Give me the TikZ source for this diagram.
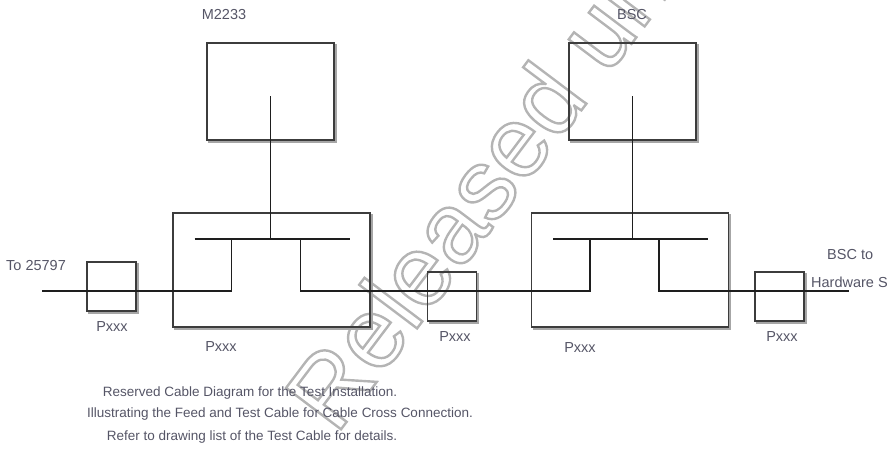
\documentclass[tikz,border=0pt]{standalone}
\usepackage{fontspec}
\setmainfont{Liberation Sans}
\usepackage{tikz}
\usetikzlibrary{positioning,calc}
\definecolor{framegray}{HTML}{3C3C3C}
\definecolor{wiregray}{HTML}{1E1E1E}
\definecolor{shadegray}{HTML}{A6A6A6}
\definecolor{lblgray}{HTML}{555566}
\definecolor{stampgray}{HTML}{B4B4B4}
\newcommand{\outlinetext}[1]{\special{pdf:literal direct 1 Tr 2.4 w}#1\special{pdf:literal direct 0 Tr}}

\begin{document}
\begin{tikzpicture}[x=1pt,y=-1pt,
		frame/.style={draw=framegray,line width=1.6pt,inner sep=0pt,outer sep=0pt},
		host/.style={frame,minimum width=127pt,minimum height=97pt},
		unit/.style={frame,minimum width=197pt,minimum height=114pt},
		plug/.style={frame,minimum width=49pt,minimum height=49pt},
		shade/.style={draw=shadegray,line width=1.8pt},
		wire/.style={draw=wiregray,line width=2.6pt},
		link/.style={draw=wiregray,line width=1.8pt},
		lbl/.style={text=lblgray,font=\fontsize{14.5}{16}\selectfont,inner sep=0pt},
		note/.style={text=lblgray,font=\fontsize{13.5}{15}\selectfont,inner sep=0pt}]
	\useasboundingbox (0,0) rectangle (887,448);
	\node[rotate=53,anchor=base west,inner sep=0pt,text=stampgray,font=\fontsize{100}{100}\selectfont] (stamp) at (336,436) {\outlinetext{Released under}};
	\node[host] (m2233) at (270.5,91.5) {};
	\node[host] (bsc) at (632.5,91.5) {};
	\node[unit] (unitL) at (271.5,270) {};
	\node[unit] (unitR) at (630,270) {};
	\node[plug] (plugA) at (111.5,286.5) {};
	\node[plug] (plugB) at (452,296.5) {};
	\node[plug] (plugC) at (779.5,296.5) {};
	\foreach \b in {m2233,bsc,unitL,unitR,plugA,plugB,plugC} {\draw[shade] ($(\b.north east)+(1.6,1)$) -- ($(\b.south east)+(1.6,1.6)$) -- ($(\b.south west)+(1,1.6)$);};
	\foreach \u/\h in {unitL/m2233,unitR/bsc} {
		\coordinate (\u-barw) at ($(\u.center)+(-77,-31)$);
		\coordinate (\u-bare) at ($(\u.center)+(78,-31)$);
		\coordinate (\u-in) at ($(\u.center)+(-40,21)$);
		\coordinate (\u-out) at ($(\u.center)+(29,21)$);
		\draw[link] (\u-barw) -- (\u-bare);
		\draw[link] ($(\h.center)+(0,4.5)$) -- (\h.center |- \u-barw);
		\draw[link] (\u.west |- \u-in) -- (\u-in) -- (\u-in |- \u-barw);
		\draw[link] (\u.east |- \u-out) -- (\u-out) -- (\u-out |- \u-bare);
	};
	\coordinate (feedL) at (42,291);
	\coordinate (feedR) at (849,291);
	\draw[wire] (feedL) -- (unitL.west |- feedL);
	\draw[wire] (unitL.east |- unitL-out) -- (unitR.west |- unitR-in);
	\draw[wire] (unitR.east |- unitR-out) -- (feedR);
	\node[lbl] (m2233-lbl) at (224,15) {M2233};
	\node[lbl] (bsc-lbl) at (632,15) {BSC};
	\node[lbl,anchor=west] (feedL-lbl) at (6,266) {To 25797};
	\node[lbl,anchor=west] (feedR-lbl) at (827,255) {BSC to};
	\node[lbl,anchor=west] (feedR-sub) at (811,282) {Hardware S};
	\node[lbl] (plugA-lbl) at (112,327) {Pxxx};
	\node[lbl] (plugB-lbl) at (455,337) {Pxxx};
	\node[lbl] (plugC-lbl) at (782,337) {Pxxx};
	\node[lbl] (unitL-lbl) at (221,347) {Pxxx};
	\node[lbl] (unitR-lbl) at (580,348) {Pxxx};
	\node[note] (note1) at (250,393) {Reserved Cable Diagram for the Test Installation.};
	\node[note] (note2) at (280,414) {Illustrating the Feed and Test Cable for Cable Cross Connection.};
	\node[note] (note3) at (252,437) {Refer to drawing list of the Test Cable for details.};
\end{tikzpicture}
\end{document}
